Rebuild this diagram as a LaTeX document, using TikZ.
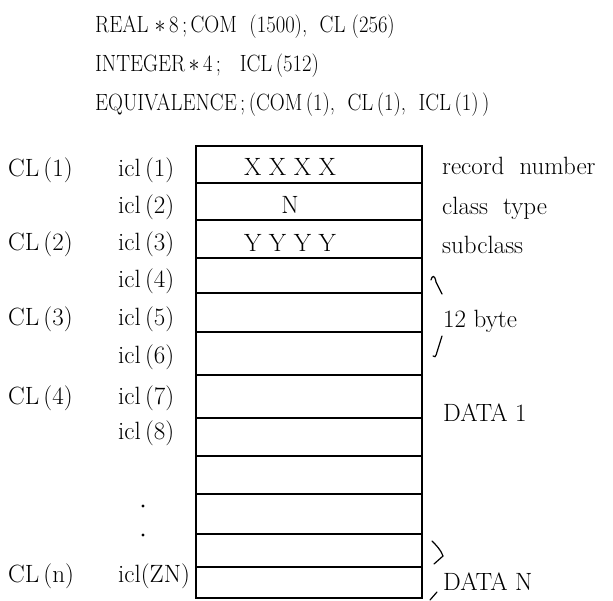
\documentclass[tikz,border=0pt]{standalone}
\begin{document}
\begin{tikzpicture}[x=1pt,y=-1pt,
  txt/.style={inner sep=0pt,font=\fontsize{25}{29}\selectfont},
  lbl/.style={txt,anchor=west},
  head/.style={inner sep=0pt,anchor=west,font=\fontsize{23.5}{27}\selectfont},
  cell/.style={txt},
  frame/.style={line width=1.5pt},
  sep/.style={line width=1.4pt},
  brc/.style={line width=1.2pt,line cap=round}]
\useasboundingbox (0,0) rectangle (613,600);
% header
\node[head] (h1) at (95,27) {\scalebox{0.88}[1]{REAL $\ast$\,8\,;\,COM~~(1500),~ CL (256)}};
\node[head] (h2) at (95,66) {\scalebox{0.88}[1]{INTEGER\,$\ast$\,4\,;~~ ICL\,(512)}};
\node[head] (h3) at (95,105) {\scalebox{0.88}[1]{EQUIVALENCE\,;\,(COM\,(1),~ CL\,(1),~ ICL\,(1)\,)}};
% box
\coordinate (tl) at (196,146);
\coordinate (br) at (422,598);
\draw[frame] (tl) rectangle (br);
\foreach \yy in {183,220,258,293,332,375,418,456,494,534,567}
  \draw[sep] (196,\yy) -- (422,\yy);
% cell contents
\node[cell] (c1) at (290,167) {X X X X};
\node[cell] (c2) at (290,205) {N};
\node[cell] (c3) at (290,243) {Y Y Y Y};
% left labels
\node[lbl] (L1) at (8,170) {CL\,(1)};
\node[lbl] (L2) at (8,244) {CL\,(2)};
\node[lbl] (L3) at (8,319) {CL\,(3)};
\node[lbl] (L4) at (8,398) {CL\,(4)};
\node[lbl] (Ln) at (8,576) {CL\,(n)};
\node[lbl] (i1) at (118,170) {icl\,(1)};
\node[lbl] (i2) at (118,207) {icl\,(2)};
\node[lbl] (i3) at (118,244) {icl\,(3)};
\node[lbl] (i4) at (118,281) {icl\,(4)};
\node[lbl] (i5) at (118,319) {icl\,(5)};
\node[lbl] (i6) at (118,357) {icl\,(6)};
\node[lbl] (i7) at (118,398) {icl\,(7)};
\node[lbl] (i8) at (118,433) {icl\,(8)};
\node[lbl] (iN) at (118,576) {icl(ZN)};
\fill (143,506) circle (1.7);
\fill (143,535) circle (1.7);
% right labels
\node[lbl] (r1) at (442,166) {record~ number};
\node[lbl] (r2) at (442,208) {class~ type};
\node[lbl] (r3) at (442,245) {subclass};
\node[lbl] (r4) at (443,321) {12 byte};
\node[lbl] (r5) at (443,413) {DATA 1};
\node[lbl] (r6) at (443,582) {DATA N};
% brace pieces
\draw[brc] (431,280) .. controls (432,275) and (435,275) .. (436,282) -- (442,294);
\draw[brc] (442,336) -- (437,352) .. controls (436,357) and (434,358) .. (433,356);
\draw[brc] (432,541) .. controls (436,545) and (441,550) .. (443,556) -- (434,564);
\draw[brc] (437,592) -- (430,600);
\end{tikzpicture}
\end{document}
